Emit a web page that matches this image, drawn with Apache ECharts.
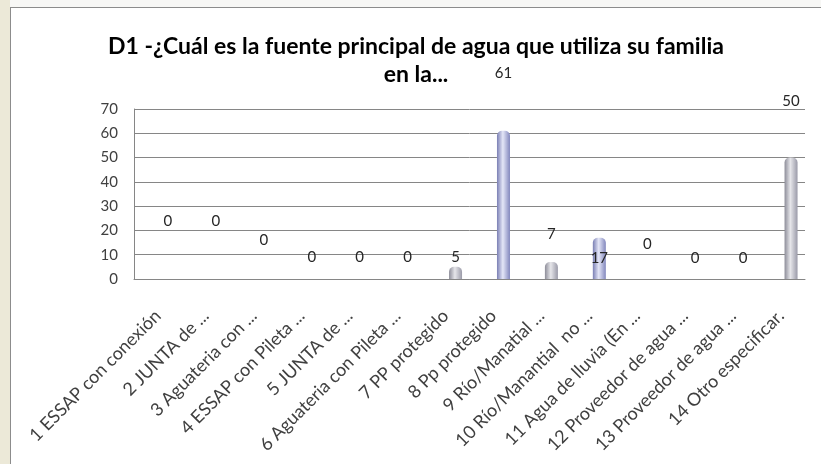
<!DOCTYPE html>
<html>
<head>
<meta charset="utf-8">
<script src="https://cdn.jsdelivr.net/npm/echarts@6/dist/echarts.min.js"></script>
<style>
html, body { margin: 0; padding: 0; background: #f7f7f5; }
.strip { position: absolute; left: 0; top: 0; width: 10px; height: 464px; background: #ece9d8; }
.chart {
  position: absolute; left: 10px; top: 7px;
  width: 810px; height: 456px;
  background: #fff;
  border-left: 1px solid #8c8c8c;
  border-top: 1px solid #8c8c8c;
}
</style>
</head>
<body>
<div class="strip"></div>
<div class="chart" id="main"></div>
<script>
// categorias y valores
const categories = [
  '1 ESSAP con conexión',
  '2 JUNTA de ...',
  '3 Aguateria con ...',
  '4 ESSAP con Pileta ...',
  '5 JUNTA de ...',
  '6 Aguateria con Pileta ...',
  '7 PP protegido',
  '8 Pp protegido',
  '9 Río/Manatial ...',
  '10 Río/Manantial  no ...',
  '11 Agua de lluvia (En ...',
  '12 Proveedor de agua ...',
  '13 Proveedor de agua ...',
  '14 Otro especificar.'
];
const values = [0, 0, 0, 0, 0, 0, 5, 61, 7, 17, 0, 0, 0, 50];
const yTicks = [0, 10, 20, 30, 40, 50, 60, 70];

// desplazamiento vertical de las etiquetas (como en el original de Excel)
const labelShiftY = [-50, -50, -31, -14, -14, -14, -2, -50, -20, 28, -27, -13, -13, -49];
// barras en gris
const grayBars = [6, 8, 13];

const fontFam = 'Lato, "Open Sans", sans-serif';

const blueGrad = new echarts.graphic.LinearGradient(0, 0, 1, 0, [
  { offset: 0, color: '#7a7fb4' },
  { offset: 0.45, color: '#e4e6f7' },
  { offset: 1, color: '#8287bd' }
]);
const grayGrad = new echarts.graphic.LinearGradient(0, 0, 1, 0, [
  { offset: 0, color: '#8d8d99' },
  { offset: 0.45, color: '#e6e6ea' },
  { offset: 1, color: '#9a9aa8' }
]);

const chart = echarts.init(document.getElementById('main'));

const option = {
  animation: false,
  title: {
    text: 'D1 -¿Cuál es la fuente principal de agua que utiliza su familia\nen la...',
    left: 'center',
    top: 25,
    padding: 0,
    textStyle: {
      fontFamily: fontFam,
      fontSize: 23,
      fontWeight: 'bold',
      color: '#000',
      lineHeight: 28
    }
  },
  grid: {
    left: 123,
    right: 16,
    top: 101,
    bottom: 185,
    containLabel: false
  },
  xAxis: {
    type: 'category',
    data: categories,
    axisTick: { show: false },
    axisLine: { lineStyle: { color: '#868686', width: 1 } },
    axisLabel: {
      rotate: 45,
      interval: 0,
      margin: 34,
      fontFamily: fontFam,
      fontSize: 18,
      color: '#404040'
    }
  },
  yAxis: {
    type: 'value',
    min: yTicks[0],
    max: yTicks[yTicks.length - 1],
    interval: 10,
    axisLine: { show: true, lineStyle: { color: '#868686', width: 1 } },
    axisTick: { show: false },
    splitLine: { lineStyle: { color: '#868686', width: 1 } },
    axisLabel: {
      margin: 16,
      fontFamily: fontFam,
      fontSize: 15,
      color: '#404040'
    }
  },
  series: [
    {
      // serie vacia, solo para correr las barras a la derecha como en Excel
      type: 'bar',
      data: [],
      barWidth: 13,
      silent: true
    },
    {
      type: 'bar',
      barWidth: 13,
      barGap: '54%',
      data: values.map((v, i) => ({
        value: v,
        label: { offset: [0, labelShiftY[i]] }
      })),
      itemStyle: {
        color: (p) => grayBars.includes(p.dataIndex) ? grayGrad : blueGrad,
        borderRadius: [5, 5, 0, 0]
      },
      label: {
        show: true,
        position: 'top',
        distance: 0,
        fontFamily: fontFam,
        fontSize: 15,
        color: '#262626'
      }
    }
  ]
};

chart.setOption(option);
</script>
</body>
</html>
